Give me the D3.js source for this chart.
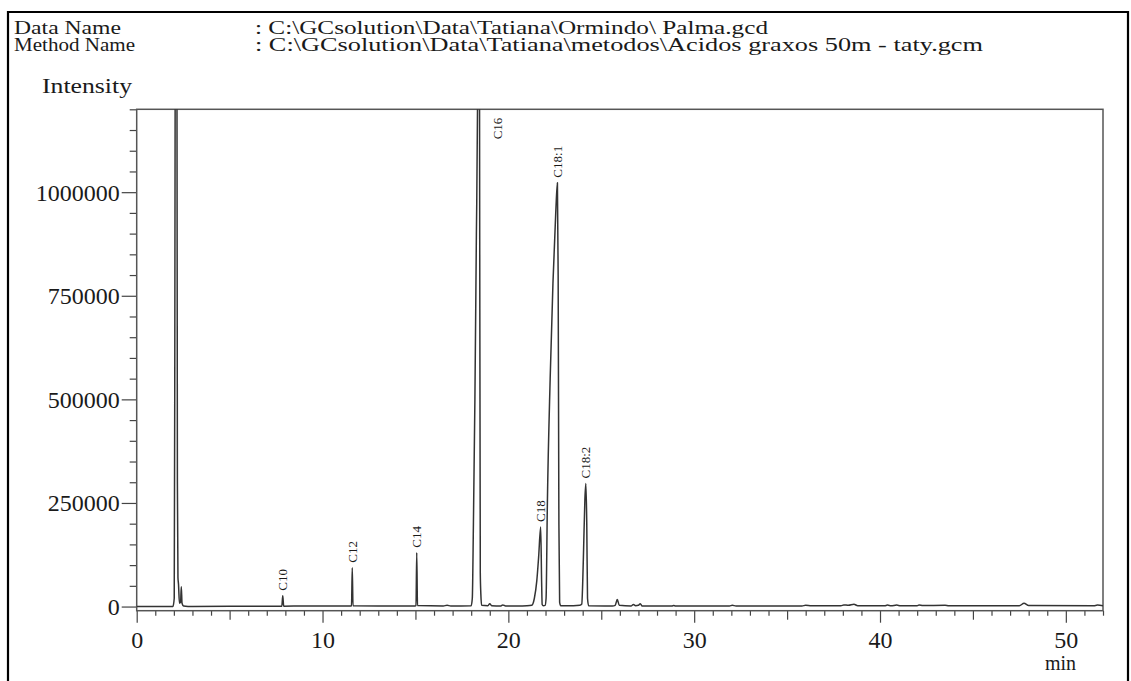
<!DOCTYPE html>
<html><head><meta charset="utf-8">
<script src="https://cdn.jsdelivr.net/npm/d3@7/dist/d3.min.js"></script>
<style>
body{margin:0;background:#fff}
svg{display:block}
text{font-family:"Liberation Serif","Times New Roman",serif;fill:#1a1a1a}
</style>
</head><body><svg id="c" width="1131" height="681"></svg>
<script>
// ---------- data ----------
const headerLabels = ["Data Name", "Method Name"];
const headerValues = [
  ": C:\\GCsolution\\Data\\Tatiana\\Ormindo\\ Palma.gcd",
  ": C:\\GCsolution\\Data\\Tatiana\\metodos\\Acidos graxos 50m - taty.gcm"
];
const yAxisTitle = "Intensity";
const xAxisTitle = "min";
const xTickValues = [0, 10, 20, 30, 40, 50];
const yTickValues = [0, 250000, 500000, 750000, 1000000];
const xDomain = [0, 52];
const yDomain = [-10000, 1200000];

const peakNames   = ["C10", "C12", "C14", "C16", "C18", "C18:1", "C18:2"];
const peakTimes   = [7.86, 11.60, 15.07, 18.38, 21.74, 22.64, 24.17];
const peakHeights = [26000, 93700, 130000, 2600000, 192000, 1023000, 297000];

const traceTime = [
  0, 1.95, 2.02, 2.05, 2.08, 2.12, 2.16, 2.19, 2.22, 2.25, 2.30, 2.36, 2.40, 2.44, 2.52, 3.0,
  5.0, 7.7, 7.81, 7.86, 7.91, 9.0, 11.5, 11.56, 11.60, 11.64, 13.0, 14.98, 15.03, 15.07, 15.11,
  16.5, 16.7, 16.9, 18.0, 18.06, 18.12, 18.20, 18.28, 18.34, 18.38, 18.45, 18.49, 18.52, 18.56,
  18.9, 19.0, 19.1, 19.6, 19.7, 19.85, 20.5, 21.0, 21.26, 21.40, 21.53, 21.63, 21.74, 21.79, 21.82, 21.88,
  21.98, 22.03, 22.10, 22.25, 22.40, 22.55, 22.64, 22.68, 22.72, 22.76, 22.82,
  23.5, 23.85, 23.95, 24.00, 24.05, 24.12, 24.17, 24.22, 24.26, 24.32,
  25.6, 25.75, 25.86, 25.97, 26.6, 26.73, 26.85, 27.0, 27.1, 27.2,
  28.8, 28.9, 29.0, 31.9, 32.05, 32.25, 35.8, 36.0, 36.3, 37.9, 38.05, 38.3, 38.6, 38.8,
  40.25, 40.4, 40.6, 40.9, 41.1, 42.0, 42.1, 42.3, 43.5, 43.7, 47.5, 47.75, 48.0, 51.5, 51.7, 52.0
];
const traceIntensity = [
  0, 0, 20000, 600000, 1600000, 4000000, 1600000, 300000, 70000, 54000, 8000, 10000, 48000, 8000, 1500, 0,
  500, 500, 1000, 26000, 1000, 1500, 1500, 2000, 93700, 2000, 1500, 1500, 2500, 130000, 2500,
  1500, 3000, 1500, 2000, 20000, 200000, 500000, 900000, 1200000, 2600000, 1200000, 80000, 30000, 3000,
  2000, 7000, 2000, 1500, 4000, 1500, 1500, 2000, 3000, 20000, 62000, 120000, 192000, 60000, 5000, 2000,
  3000, 20000, 250000, 550000, 780000, 950000, 1023000, 800000, 200000, 10000, 2000,
  2000, 3000, 6000, 56000, 140000, 260000, 297000, 200000, 20000, 2000,
  1500, 3000, 17000, 3000, 1500, 5000, 2000, 3000, 7000, 1500,
  1500, 2500, 1500, 1500, 3000, 1500, 1500, 3000, 2000, 2000, 4000, 3000, 5500, 2000,
  2000, 3500, 2000, 3500, 2000, 2000, 3500, 2500, 3000, 2000, 2000, 8000, 2500, 2000, 3500, 2000
];

// ---------- drawing ----------
const W = 1131, H = 681;
const svg = d3.select("#c");
svg.append("rect").attr("width", W).attr("height", H).attr("fill", "#fff");

// page frame
svg.append("path")
  .attr("d", "M8,681 V12 H1128 V681")
  .attr("fill", "none").attr("stroke", "#000").attr("stroke-width", 2.2);

// header
const hdr = svg.append("g");
headerLabels.forEach((lab, i) => {
  const by = 34 + i * 16.5;
  hdr.append("text").attr("x", 14).attr("y", by).attr("font-size", 19)
    .attr("textLength", [107, 121][i]).attr("lengthAdjust", "spacingAndGlyphs").text(lab);
  hdr.append("text").attr("x", 255).attr("y", by).attr("font-size", 19)
    .attr("textLength", [513, 728][i]).attr("lengthAdjust", "spacingAndGlyphs").text(headerValues[i]);
});
svg.append("text").attr("x", 42).attr("y", 93).attr("font-size", 21)
  .attr("textLength", 90).attr("lengthAdjust", "spacingAndGlyphs").text(yAxisTitle);

const L = 136.7, R = 1103, T = 109.3, B = 610.7;
const x = d3.scaleLinear().domain(xDomain).range([L, R]);
const y = d3.scaleLinear().domain(yDomain).range([B, T]);

const axisColor = "#444";

// y axis minor ticks
const yMinor = d3.range(0, yDomain[1] + 1, 50000).filter(v => !yTickValues.includes(v));
const gyMinor = svg.append("g").attr("transform", `translate(${L},0)`)
  .call(d3.axisLeft(y).tickValues(yMinor).tickSize(7).tickFormat(""));
const gy = svg.append("g").attr("transform", `translate(${L},0)`)
  .call(d3.axisLeft(y).tickValues(yTickValues).tickSize(15).tickPadding(2).tickFormat(d3.format("d")));
[gyMinor, gy].forEach(g => {
  g.select(".domain").remove();
  g.selectAll("line").attr("stroke", axisColor).attr("stroke-width", 1.2);
});
gy.selectAll("text").attr("font-size", 24).attr("fill", "#1a1a1a")
  .attr("font-family", "'Liberation Serif','Times New Roman',serif").attr("dy", "0.33em");

// x axis ticks
const xMinor = d3.range(0, 53, 1).filter(v => v % 5 !== 0);
const xMid = d3.range(5, 53, 10);
const gxMinor = svg.append("g").attr("transform", `translate(0,${B})`)
  .call(d3.axisBottom(x).tickValues(xMinor).tickSize(5).tickFormat(""));
const gxMid = svg.append("g").attr("transform", `translate(0,${B})`)
  .call(d3.axisBottom(x).tickValues(xMid).tickSize(9).tickFormat(""));
const gx = svg.append("g").attr("transform", `translate(0,${B})`)
  .call(d3.axisBottom(x).tickValues(xTickValues).tickSize(12).tickPadding(8).tickFormat(d3.format("d")));
[gxMinor, gxMid, gx].forEach(g => {
  g.select(".domain").remove();
  g.selectAll("line").attr("stroke", axisColor).attr("stroke-width", 1.2);
});
gx.selectAll("text").attr("font-size", 24)
  .attr("font-family", "'Liberation Serif','Times New Roman',serif")
  .attr("fill", d => d === 0 ? "#b5b5b5" : "#1a1a1a");

svg.append("text").attr("x", 1076).attr("y", 670).attr("text-anchor", "end")
  .attr("font-size", 20).text(xAxisTitle);

// plot frame
svg.append("rect").attr("x", L).attr("y", T).attr("width", R - L).attr("height", B - T)
  .attr("fill", "none").attr("stroke", "#555").attr("stroke-width", 1.5);

// trace
svg.append("clipPath").attr("id", "clip").append("rect")
  .attr("x", L).attr("y", T).attr("width", R - L).attr("height", B - T);
const pts = traceTime.map((t, i) => [t, traceIntensity[i]]);
const line = d3.line().x(d => x(d[0])).y(d => y(d[1])).curve(d3.curveMonotoneX);
svg.append("path").attr("clip-path", "url(#clip)").datum(pts)
  .attr("d", line).attr("fill", "none").attr("stroke", "#333").attr("stroke-width", 1.5)
  .attr("stroke-linejoin", "round");

// peak labels
const yMax = yDomain[1];
peakNames.forEach((name, i) => {
  const off = peakHeights[i] > yMax;
  const px = x(peakTimes[i]) + (off ? 19 : 0);
  const py = off ? y(yMax) + 30 : y(peakHeights[i]) - 5;
  svg.append("text")
    .attr("transform", `translate(${px},${py}) rotate(-90)`)
    .attr("dy", "0.35em").attr("font-size", 13).text(name);
});
</script>
</body></html>
